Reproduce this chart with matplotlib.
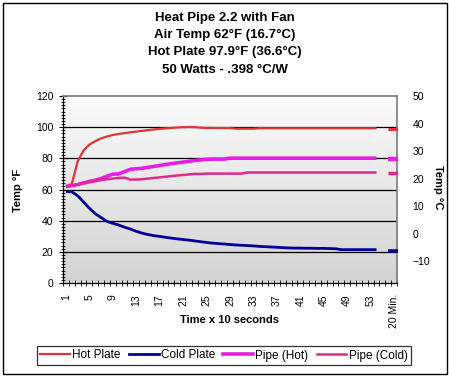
import numpy as np
import matplotlib
matplotlib.use("Agg")
import matplotlib.pyplot as plt
from matplotlib.ticker import MultipleLocator, FixedLocator
from matplotlib.patches import Rectangle
from matplotlib.lines import Line2D

plt.rcParams['font.family'] = ['Liberation Sans', 'DejaVu Sans']

# --- data, one value per 10 s, last one = 20 min ---
title_lines = ["Heat Pipe 2.2 with Fan",
               "Air Temp 62\u00b0F (16.7\u00b0C)",
               "Hot Plate 97.9\u00b0F (36.6\u00b0C)",
               "50 Watts - .398 \u00b0C/W"]

hot_plate = [62, 63.5, 78, 85, 88.8, 91, 92.8, 94, 95, 95.6,
             96.2, 96.7, 97.2, 97.6, 98.1, 98.5, 98.9, 99.2, 99.5, 99.8,
             100, 100.1, 100, 99.7, 99.5, 99.5, 99.4, 99.4, 99.4, 99.0,
             99.0, 99.0, 99.0, 99.3, 99.3, 99.3, 99.3, 99.3, 99.3, 99.3,
             99.3, 99.3, 99.3, 99.3, 99.3, 99.3, 99.3, 99.3, 99.3, 99.3,
             99.3, 99.3, 99.3, 99.3, None, None, 98.8]
cold_plate = [58.7, 58.5, 56, 52, 48, 44.5, 42, 39.5, 38.3, 37.2,
              35.8, 34.6, 33.2, 32, 31.1, 30.4, 29.9, 29.3, 28.8, 28.3,
              27.9, 27.5, 27, 26.5, 26, 25.6, 25.3, 25, 24.7, 24.4,
              24.2, 24, 23.8, 23.5, 23.3, 23.1, 22.9, 22.7, 22.5, 22.4,
              22.4, 22.3, 22.3, 22.2, 22.2, 22.1, 22.0, 21.4, 21.4, 21.4,
              21.4, 21.4, 21.4, 21.4, None, None, 20.6]
pipe_hot = [62, 62.5, 63.2, 64.2, 65.2, 66, 67, 68.5, 69.8, 70,
            71.5, 73, 73.3, 73.6, 74.2, 74.8, 75.4, 76, 76.6, 77.1,
            77.6, 78.1, 78.6, 79, 79.4, 79.5, 79.5, 79.5, 80.1, 80.1,
            80.1, 80.1, 80.1, 80.1, 80.1, 80.1, 80.1, 80.1, 80.1, 80.1,
            80.1, 80.1, 80.1, 80.1, 80.1, 80.1, 80.1, 80.1, 80.1, 80.1,
            80.1, 80.1, 80.1, 80.1, None, None, 79.5]
pipe_cold = [61.7, 62.5, 63.2, 63.9, 64.6, 65.3, 66, 66.6, 67, 67.5,
             67.6, 66.4, 66.4, 66.6, 67, 67.4, 67.8, 68.2, 68.6, 69,
             69.3, 69.7, 70, 70, 70.2, 70.2, 70.2, 70.2, 70.2, 70.2,
             70.2, 70.9, 70.9, 70.9, 70.9, 70.9, 70.9, 70.9, 70.9, 70.9,
             70.9, 70.9, 70.9, 70.9, 70.9, 70.9, 70.9, 70.9, 70.9, 70.9,
             70.9, 70.9, 70.9, 70.9, None, None, 70.9]

categories = np.arange(1, len(hot_plate) + 1)
tick_pos = list(range(1, 57, 4)) + [57]
tick_labels = [str(p) for p in range(1, 57, 4)] + ["20 Min."]

series = [
    ("Hot Plate", hot_plate, "#e03535", 1.6),
    ("Cold Plate", cold_plate, "#000099", 2.0),
    ("Pipe (Hot)", pipe_hot, "#e61ee6", 2.6),
    ("Pipe (Cold)", pipe_cold, "#e02a8c", 1.8),
]

fig = plt.figure(figsize=(4.49, 3.77), dpi=100)
ax = fig.add_axes([63 / 449, 1 - 283 / 377, 334 / 449, 187 / 377])

# fond dégradé
grad = np.linspace(0, 1, 256).reshape(-1, 1)
cmap = matplotlib.colors.LinearSegmentedColormap.from_list("bg", ["#fbfbfb", "#d3d3d3"])
ax.imshow(grad, extent=[0, 1, 0, 1], transform=ax.transAxes, aspect="auto",
          cmap=cmap, zorder=0)
ax.set_facecolor("none")

for yv in range(20, 101, 20):
    ax.axhline(yv, color="black", lw=0.9, zorder=1)

for name, vals, col, lw in series:
    y = np.array([np.nan if v is None else v for v in vals], dtype=float)
    ax.plot(categories, y, color=col, lw=lw, solid_capstyle="butt", zorder=3,
            marker="_", markevery=[len(y) - 1], ms=8, mew=lw + 0.6, label=name)

ax.set_xlim(0.5, len(categories) + 0.5)
ax.set_ylim(0, 120)
ax.yaxis.set_major_locator(MultipleLocator(20))
ax.yaxis.set_minor_locator(MultipleLocator(2))
ax.tick_params(axis="y", which="major", direction="inout", length=6, width=0.8,
               labelsize=7.5, pad=4)
ax.tick_params(axis="y", which="minor", direction="inout", length=3, width=0.6)

ax.xaxis.set_major_locator(FixedLocator(tick_pos))
ax.set_xticklabels(tick_labels, rotation=90, fontsize=7.5)
ax.xaxis.set_minor_locator(FixedLocator(np.arange(0.5, len(categories) + 1, 1)))
ax.tick_params(axis="x", which="major", length=0, pad=8)
ax.tick_params(axis="x", which="minor", direction="inout", length=4, width=0.6)

for s in ["top", "right"]:
    ax.spines[s].set_color("#7a7a7a")
    ax.spines[s].set_linestyle((0, (1, 1)))
    ax.spines[s].set_linewidth(1.2)
for s in ["left", "bottom"]:
    ax.spines[s].set_linewidth(0.9)

# axe secondaire en Celsius
ax2 = ax.twinx()
ax2.set_ylim(-17.8, 50)
ax2.set_yticks(range(-10, 51, 10))
ax2.tick_params(axis="y", length=0, labelsize=7.5, pad=11)
for s in ax2.spines.values():
    s.set_visible(False)

fig.text(18 / 449, 1 - 190 / 377, "Temp \u00b0F", rotation=90, ha="center", va="center",
         fontsize=8, fontweight="bold")
fig.text(438 / 449, 1 - 187 / 377, "Temp \u00b0C", rotation=-90, ha="center", va="center",
         fontsize=8, fontweight="bold")
fig.text(230 / 449, 1 - 320 / 377, "Time x 10 seconds", ha="center", va="center",
         fontsize=8, fontweight="bold")

for i, line in enumerate(title_lines):
    fig.text(225 / 449, 1 - (18 + 17.2 * i) / 377, line, ha="center", va="center",
             fontsize=9.5, fontweight="bold")

labels = [name for name, _, _, _ in series]
leg_handles = [Line2D([], [], color=c, lw=lw) for _, _, c, lw in series]
leg = fig.legend(leg_handles, labels, loc="center", ncol=4,
                 bbox_to_anchor=(224 / 449, 1 - 355.5 / 377), fontsize=8.5,
                 frameon=True, fancybox=False, edgecolor="black",
                 handlelength=2.5, handletextpad=0.2, columnspacing=0.7,
                 borderpad=0.3)
leg.get_frame().set_linewidth(0.9)

fig.patches.append(Rectangle((2.5 / 449, 1 - 374 / 377), 444 / 449, 371 / 377,
                             transform=fig.transFigure, fill=False,
                             edgecolor="black", lw=1.0))

fig.savefig("out.png", dpi=100)
